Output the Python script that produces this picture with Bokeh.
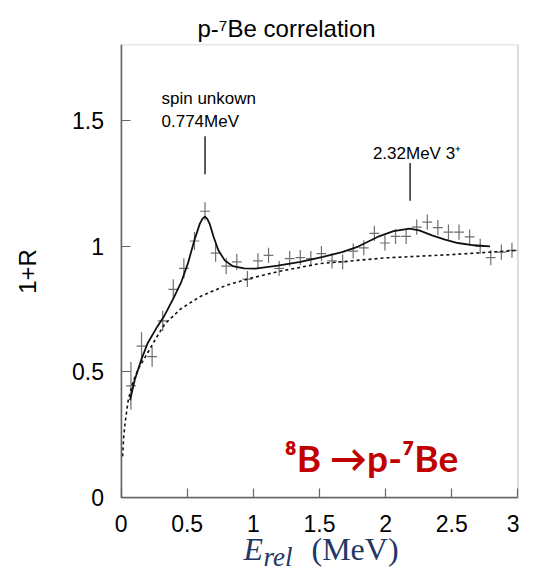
import numpy as np
from math import pi
from bokeh.plotting import figure
from bokeh.models import Range1d, FixedTicker, Label, BoxAnnotation
from bokeh.embed import file_html
from bokeh.resources import INLINE

# ---- data ----
e_bins = [0.075, 0.155, 0.235, 0.315, 0.395, 0.475, 0.555, 0.635, 0.715, 0.795,
          0.875, 0.955, 1.035, 1.115, 1.195, 1.275, 1.355, 1.435, 1.515, 1.595,
          1.675, 1.755, 1.835, 1.915, 1.995, 2.075, 2.155, 2.235, 2.315, 2.395,
          2.475, 2.555, 2.635, 2.715, 2.795, 2.875, 2.955]
ratio = [0.445, 0.603, 0.561, 0.703, 0.828, 0.911, 1.020, 1.138, 0.972, 0.920,
         0.937, 0.869, 0.941, 0.963, 0.911, 0.950, 0.954, 0.950, 0.970, 0.941,
         0.937, 0.980, 0.993, 1.050, 1.012, 1.038, 1.038, 1.075, 1.095, 1.073,
         1.055, 1.055, 1.036, 0.999, 0.954, 0.976, 0.983]
ratio_err = [0.095, 0.055, 0.040, 0.040, 0.040, 0.040, 0.036, 0.036, 0.034, 0.032,
             0.032, 0.032, 0.030, 0.030, 0.030, 0.030, 0.030, 0.030, 0.030, 0.030,
             0.030, 0.030, 0.030, 0.030, 0.030, 0.030, 0.030, 0.030, 0.030, 0.030,
             0.030, 0.030, 0.030, 0.030, 0.030, 0.030, 0.030]
bin_half = 0.037

fit_x = [0.068, 0.104, 0.153, 0.201, 0.274, 0.323, 0.396, 0.456, 0.505, 0.554,
         0.595, 0.615, 0.634, 0.652, 0.670, 0.700, 0.736, 0.784, 0.845, 0.930,
         1.015, 1.185, 1.356, 1.526, 1.671, 1.793, 1.939, 2.060, 2.181, 2.254,
         2.351, 2.449, 2.546, 2.668, 2.789]
fit_y = [0.388, 0.469, 0.548, 0.614, 0.680, 0.719, 0.792, 0.858, 0.930, 1.022,
         1.088, 1.108, 1.117, 1.108, 1.088, 1.036, 0.983, 0.943, 0.920, 0.911,
         0.910, 0.922, 0.937, 0.957, 0.976, 0.998, 1.036, 1.059, 1.069, 1.062,
         1.042, 1.025, 1.012, 1.003, 0.999]

bg_x = [0.012, 0.020, 0.031, 0.055, 0.090, 0.128, 0.200, 0.260, 0.330, 0.380,
        0.450, 0.600, 0.800, 1.000, 1.200, 1.500, 2.000, 2.500, 2.980]
bg_y = [0.165, 0.240, 0.300, 0.390, 0.460, 0.510, 0.575, 0.630, 0.690, 0.715,
        0.750, 0.800, 0.845, 0.875, 0.900, 0.930, 0.953, 0.966, 0.982]

x_ticks = [0, 0.5, 1, 1.5, 2, 2.5, 3]
x_tick_labels = ["0", "0.5", "1", "1.5", "2", "2.5", "3"]
y_ticks = [0, 0.5, 1, 1.5]
y_tick_labels = ["0", "0.5", "1", "1.5"]

peak_marks_x = [0.635, 2.185]
peak_marks_y0 = [1.285, 1.180]
peak_marks_y1 = [1.436, 1.330]

X_MIN, X_MAX = 0, 3
Y_MIN, Y_MAX = 0, 1.8

# ---- figure: the frame fills the canvas below the title; both axes are
# pinned at 0 and the visible box is drawn over the data extent ----
p = figure(width=519, height=572, output_backend="svg", toolbar_location=None,
           x_range=Range1d(-0.911, 3.012), y_range=Range1d(-0.296, Y_MAX),
           min_border_left=0, min_border_right=0, min_border_top=44,
           min_border_bottom=0)
p.grid.visible = False
p.outline_line_color = None
p.background_fill_color = "white"
p.border_fill_color = "white"

p.add_layout(BoxAnnotation(left=X_MIN, right=X_MAX, bottom=Y_MIN, top=Y_MAX,
                           fill_color=None, line_color="#666666",
                           line_width=1.5))

p.title.text = "p-\u2077Be correlation"
p.title.align = "left"
p.title.offset = 197
p.title.standoff = 5
p.title.text_font = "Liberation Sans"
p.title.text_font_style = "normal"
p.title.text_font_size = "24px"
p.title.text_color = "black"

for ax, ticks, labels in ((p.xaxis[0], x_ticks, x_tick_labels),
                          (p.yaxis[0], y_ticks, y_tick_labels)):
    ax.ticker = FixedTicker(ticks=ticks)
    ax.major_label_overrides = {t: l for t, l in zip(ticks, labels)}
    ax.major_tick_in = 9
    ax.major_tick_out = 0
    ax.minor_tick_line_color = None
    ax.axis_line_color = "#666666"
    ax.axis_line_width = 1.5
    ax.major_tick_line_color = "#666666"
    ax.major_tick_line_width = 1.2
    ax.major_label_text_font = "Liberation Sans"
    ax.major_label_text_font_size = "23px"
    ax.major_label_text_color = "black"
    ax.fixed_location = 0

p.xaxis.bounds = (X_MIN, X_MAX)
p.yaxis.bounds = (Y_MIN, Y_MAX)
p.xaxis.major_label_standoff = 17
p.yaxis.major_label_standoff = 17

# data crosses
xb = np.array(e_bins)
yb = np.array(ratio)
eb = np.array(ratio_err)
p.segment(x0=xb - bin_half, x1=xb + bin_half, y0=yb, y1=yb,
          line_color="#6e6e6e", line_width=1.2)
p.segment(x0=xb, x1=xb, y0=yb - eb, y1=yb + eb,
          line_color="#6e6e6e", line_width=1.2)

# curves
p.line(bg_x, bg_y, line_color="#111111", line_width=1.6, line_dash="3 3")
p.line(fit_x, fit_y, line_color="#111111", line_width=1.8)

# peak markers
p.segment(x0=peak_marks_x, x1=peak_marks_x, y0=peak_marks_y0, y1=peak_marks_y1,
          line_color="#333333", line_width=1.6)

def add_label(**kw):
    p.add_layout(Label(**kw))

add_label(x=0.306, y=1.585, text="spin unkown", text_font="Liberation Sans",
          text_font_size="17px", text_color="black", text_baseline="alphabetic")
add_label(x=0.306, y=1.493, text="0.774MeV", text_font="Liberation Sans",
          text_font_size="17px", text_color="black", text_baseline="alphabetic")
add_label(x=1.904, y=1.368, text="2.32MeV 3\u207a", text_font="Liberation Sans",
          text_font_size="17px", text_color="black", text_baseline="alphabetic")

add_label(x=1.235, y=0.161, text="\u2078B \u2192p-\u2077Be", text_font="Lato",
          text_font_style="bold", text_font_size="37px", text_color="#C00000",
          text_baseline="alphabetic")

# y-axis title
add_label(x=27, y=301, x_units="screen", y_units="screen", text="1+R",
          angle=pi / 2, text_font="Liberation Sans", text_font_size="24px",
          text_color="black", text_align="center", text_baseline="middle")

# x-axis title E_rel (MeV), in screen units from the frame's bottom-left
navy = "#1F3864"
add_label(x=243, y=24, x_units="screen", y_units="screen", text="E",
          text_font="Liberation Serif", text_font_style="italic",
          text_font_size="32px", text_color=navy, text_baseline="alphabetic")
add_label(x=263, y=16, x_units="screen", y_units="screen", text="rel",
          text_font="Liberation Serif", text_font_style="italic",
          text_font_size="27px", text_color=navy, text_baseline="alphabetic")
add_label(x=311, y=24, x_units="screen", y_units="screen", text="(MeV)",
          text_font="Liberation Serif", text_font_size="32px",
          text_color=navy, text_baseline="alphabetic")

open("out.html", "w").write(file_html(p, INLINE))
